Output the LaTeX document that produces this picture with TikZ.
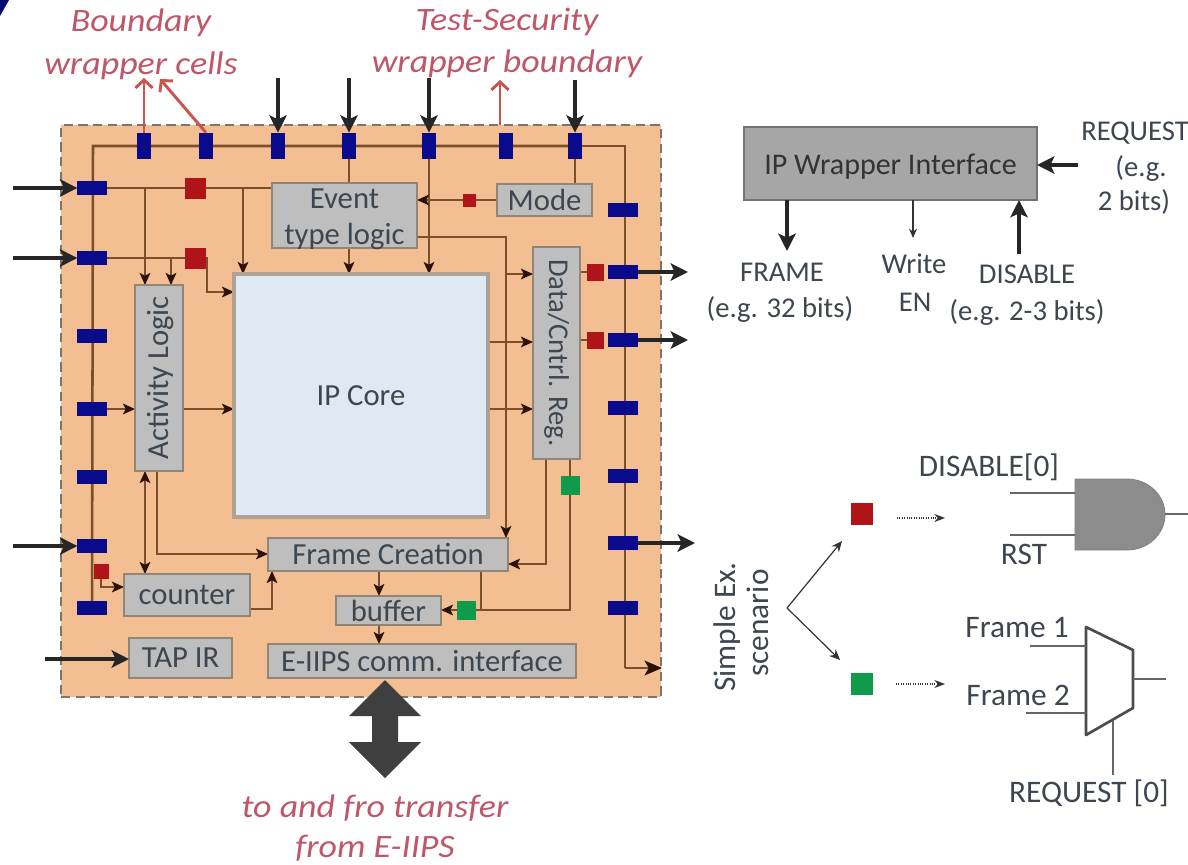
\documentclass[tikz,border=0pt]{standalone}
\usepackage{fontspec}
\usepackage{graphicx}
\setmainfont{Carlito}
\newfontfamily\wideit[FakeStretch=1.1]{Carlito}
\usetikzlibrary{arrows.meta,calc}
\pgfdeclarelayer{wrap}\pgfdeclarelayer{wire}
\pgfsetlayers{wrap,wire,main}
\definecolor{wrapc}{HTML}{F3BE91}
\definecolor{wrapb}{HTML}{7A7570}
\definecolor{wirec}{HTML}{7C4F2A}
\definecolor{headc}{HTML}{2A1208}
\definecolor{cellb}{HTML}{0A0A8C}
\definecolor{cellr}{HTML}{AE1418}
\definecolor{cellg}{HTML}{109A4C}
\definecolor{boxf}{HTML}{BEBEBE}
\definecolor{boxb}{HTML}{8F8678}
\definecolor{corec}{HTML}{DEE9F3}
\definecolor{coreb}{HTML}{AFA294}
\definecolor{redt}{HTML}{C0566A}
\definecolor{redl}{HTML}{C8554F}
\definecolor{txtc}{HTML}{3E4650}
\definecolor{bigc}{HTML}{3F3F3F}
\definecolor{ifacef}{HTML}{A6A6A6}
\newcommand\bx[7]{%
 \pgfmathsetmacro\bxc{(#2+#4)/2}\pgfmathsetmacro\byc{(#3+#5)/2}%
 \pgfmathsetmacro\bw{(#4-#2)*0.75}\pgfmathsetmacro\bh{(#5-#3)*0.75}%
 \node[#6,minimum width=\bw pt,minimum height=\bh pt] (#1) at (\bxc,\byc) {#7};}
\newcommand\cellv[2]{\node[vcell] (#1) at #2 {};}
\newcommand\cellh[2]{\node[hcell] (#1) at #2 {};}
\tikzset{
 x=0.75pt,y=-0.75pt,
 every node/.style={inner sep=0pt,outer sep=0pt},
 graybox/.style={draw=boxb,line width=1.6pt,fill=boxf,text=txtc,font=\fontsize{23}{27}\selectfont,align=center},
 vcell/.style={fill=cellb,minimum width=10.5pt,minimum height=20pt},
 hcell/.style={fill=cellb,minimum width=22pt,minimum height=10.5pt},
 redc/.style={fill=cellr,minimum size=#1*0.75pt},
 grnc/.style={fill=cellg,minimum size=#1*0.75pt},
 wirel/.style={draw=wirec,line width=1.2pt},
 busl/.style={draw=wirec,line width=1.9pt},
 thinar/.style={wirel,-{Stealth[length=9pt,width=8pt,inset=2pt,color=headc]}},
 thinbo/.style={wirel,{Stealth[length=9pt,width=8pt,inset=2pt,color=headc]}-{Stealth[length=9pt,width=8pt,inset=2pt,color=headc]}},
 blkar/.style={draw=black!85,line width=3pt,-{Stealth[length=13pt,width=13pt,inset=3pt]}},
 redar/.style={draw=redl,line width=2.2pt,-{Straight Barb[length=6pt,width=13pt]}},
 lbl/.style={text=txtc,font=\fontsize{21.5}{25}\selectfont},
 lblb/.style={text=txtc,font=\fontsize{23.5}{27}\selectfont},
 ital/.style={text=redt,font=\wideit\fontsize{24.5}{31}\selectfont\itshape,align=center},
 gate/.style={draw=black!60,line width=1.1pt},
}
\begin{document}
\begin{tikzpicture}
\useasboundingbox (0,0) rectangle (1188,864);
% corner mark
\fill[cellb!85!black] (0,0) -- (9,0) -- (0,16) -- cycle;

% wrapper
\begin{pgfonlayer}{wrap}
\bx{wrapper}{61}{125}{661}{697}{draw=wrapb,dash pattern=on 7pt off 4pt,line width=1.5pt,fill=wrapc}{}
\end{pgfonlayer}

% boxes
\bx{core}{234}{274}{488}{517}{draw=coreb,line width=2.6pt,fill=corec,text=txtc,font=\fontsize{23}{27}\selectfont}{IP Core}
\bx{event}{272}{183}{417}{248}{graybox}{\raisebox{-9pt}[0pt][0pt]{\begin{tabular}{@{}c@{}}Event\\type logic\end{tabular}}}
\bx{mode}{497}{184}{592}{216}{graybox}{Mode}
\bx{datareg}{533}{247}{580}{459}{graybox,font=\fontsize{21.5}{25}\selectfont}{\rotatebox{-90}{Data/Cntrl. Reg.}}
\bx{activity}{135}{285}{183}{471}{graybox}{\hspace{3pt}\rotatebox{90}{Activity Logic}}
\bx{frame}{268}{538}{508}{571}{graybox}{Frame Creation}
\bx{counter}{124}{574}{250}{616}{graybox}{counter}
\bx{buffer}{336}{596}{441}{625}{graybox}{buffer}
\bx{tapir}{129}{638}{232}{678}{graybox}{TAP IR}
\bx{eiips}{268}{644}{576}{678}{graybox}{E-IIPS comm. interface}

% wrapper cells
\cellv{t1}{(144,146)}\cellv{t2}{(206,146)}\cellv{t3}{(278,146)}\cellv{t4}{(349,146)}
\cellv{t5}{(429,146)}\cellv{t6}{(506,146)}\cellv{t7}{(575,146)}
\cellh{l1}{(92,188)}\cellh{l2}{(92,258)}\cellh{l3}{(92,336)}\cellh{l4}{(92,409)}
\cellh{l5}{(92,477)}\cellh{l6}{(92,546)}\cellh{l7}{(92,608)}
\cellh{r1}{(623,210)}\cellh{r2}{(623,272)}\cellh{r3}{(623,340)}\cellh{r4}{(623,408)}
\cellh{r5}{(623,476)}\cellh{r6}{(623,543)}\cellh{r7}{(623,608)}

% small cells
\node[redc=21] (ra) at (195,188) {};
\node[redc=21] (rb) at (195,258) {};
\node[redc=13] (rm) at (469,200) {};
\node[redc=17] (rc) at (595,272) {};
\node[redc=17] (rd) at (595,340) {};
\node[redc=15] (re) at (101,571) {};
\node[grnc=19] (ga) at (570,485) {};
\node[grnc=19] (gb) at (466,610) {};

% free ends
\coordinate (busTL) at (93,146);
\coordinate (busTR) at (625,146);
\coordinate (busEnd) at (625,668);
\coordinate (busOut) at (662,668);
\coordinate (in1) at (13,188);
\coordinate (in2) at (13,258);
\coordinate (in3) at (13,546);
\coordinate (in4) at (45,659);
\coordinate (top3) at (278,78);
\coordinate (top4) at (349,78);
\coordinate (top5) at (429,78);
\coordinate (top7) at (575,80);
\coordinate (out2) at (688,272);
\coordinate (out3) at (688,340);
\coordinate (out6) at (695,543);

\begin{pgfonlayer}{wire}
 % scan bus
 \draw[busl] (t7.center) -- (busTL) -- (l7.center);
 \draw[busl] (t7.center) -- (busTR) -- (busEnd);
 \draw[busl,-{Stealth[length=13pt,width=11pt,inset=3pt,color=headc]}] (busEnd) -- (busOut);
 % row 1 and 2
 \draw[draw=wirec,line width=2.2pt] (l1.center) -- (l1 -| event.west);
 \draw[wirel] (l2.center) -- (rb.center);
 \draw[thinar] (145,188) -- (145,285);
 \draw[thinar] (243,188) -- (243,274);
 \draw[thinar] (171,258) -- (171,285);
 \draw[thinar] (rb.east) -- (207,258) -- (207,292) -- (core.west |- 0,292);
 % event logic
 \draw[wirel] (t4.center) -- (event.north -| t4.center);
 \draw[thinar] (event.south -| t4.center) -- (core.north -| t4.center);
 \draw[thinar] (t5.center) -- (core.north -| t5.center);
 \draw[wirel] (t7.center) -- (mode.north -| t7.center);
 \draw[thinar] (mode.west) -- (event.east |- mode.west);
 \draw[thinar] (event.east |- 0,237) -- (506,237) -- (506,538);
 % data register
 \draw[thinar] (506,274) -- (datareg.west |- 0,274);
 \draw[thinar] (core.east |- 0,342) -- (datareg.west |- 0,342);
 \draw[thinar] (core.east |- 0,409) -- (datareg.west |- 0,409);
 \draw[wirel] (datareg.east |- rc) -- (rc.center);
 \draw[wirel] (datareg.east |- rd) -- (rd.center);
 % activity
 \draw[thinar] (l4.center) -- (activity.west |- l4);
 \draw[thinar] (activity.east |- l4) -- (core.west |- l4);
 \draw[thinbo] (145,471) -- (145,574);
 \draw[thinar] (157,471) -- (157,554) -- (frame.west |- 0,554);
 % counter
 \draw[thinar] (counter.east |- 0,609) -- (272,609) -- (272,571);
 \draw[thinar] (re.south) -- (101,587) -- (counter.west |- 0,587);
 % frame
 \draw[thinar] (546,459) -- (546,564) -- (frame.east |- 0,564);
 \draw[wirel] (ga.center) -- (ga |- datareg.south);
 \draw[wirel] (ga.center) -- (ga |- gb) -- (gb.center);
 \draw[wirel] (481,571) -- (481,610);
 \draw[thinar] (gb.center) -- (buffer.east |- gb);
 \draw[thinar] (379,571) -- (379,596);
 \draw[thinar] (379,625) -- (379,644);
\end{pgfonlayer}

% black IO arrows
\draw[blkar] (in1) -- (l1.west);
\draw[blkar] (in2) -- (l2.west);
\draw[blkar] (in3) -- (l6.west);
\draw[blkar] (in4) -- (tapir.west |- in4);
\draw[blkar] (top3) -- (t3.north);
\draw[blkar] (top4) -- (t4.north);
\draw[blkar] (top5) -- (t5.north);
\draw[blkar] (top7) -- (t7.north);
\draw[blkar] (r2.east) -- (out2);
\draw[blkar] (r3.east) -- (out3);
\draw[blkar] (r6.east) -- (out6);

% italic labels and red arrows
\node[ital] (lbw) at (141,44) {Boundary\\[1pt]wrapper cells};
\node[ital] (ltw) at (507,43) {Test-Security\\[1pt]wrapper boundary};
\coordinate (lbwa) at (144,78);
\coordinate (lbwb) at (160,79);
\coordinate (ltwa) at (500,80);
\draw[redar] (t1.north) -- (lbwa);
\draw[redar] (t2.north) -- (lbwb);
\draw[redar] (ltwa |- wrapper.north) -- (ltwa);

% big double arrow
\node[ital] (lfro) at (375,808) {to and fro transfer};
\node[ital] (lfrom) at (375,848) {from E-IIPS};
\coordinate (bigT) at (385,680);
\coordinate (bigB) at (385,778);
\fill[bigc] (bigT) -- (421,716) -- (398,716) -- (398,742) -- (421,742) -- (bigB) -- (349,742) -- (372,742) -- (372,716) -- (349,716) -- cycle;

% IP wrapper interface
\bx{iface}{744}{127}{1037}{200}{draw=black!55,line width=.8pt,fill=ifacef,text=black!80,font=\fontsize{22.5}{26}\selectfont}{\raisebox{-8pt}[0pt][0pt]{IP Wrapper Interface}}
\node[lbl] (req1) at (1135,133) {REQUEST};
\node[lbl] (req2) at (1141,168) {(e.g.};
\node[lbl] (req3) at (1134,202) {2 bits)};
\node[lbl] (fr1) at (782,272) {FRAME};
\node[lbl] (fr2) at (780,309) {(e.g. 32 bits)};
\node[lbl] (we1) at (914,264) {Write};
\node[lbl] (we2) at (915,302) {EN};
\node[lbl] (dis1) at (1027,274) {DISABLE};
\node[lbl] (dis2) at (1027,312) {(e.g. 2-3 bits)};
\coordinate (fa) at (787,251);
\coordinate (wa) at (913,238);
\coordinate (da) at (1019,254);
\coordinate (rqa) at (1078,165);
\draw[blkar] (iface.south -| fa) -- (fa);
\draw[draw=black!80,line width=1pt,-{Stealth[length=7pt,width=6pt]}] (iface.south -| wa) -- (wa);
\draw[blkar] (da) -- (iface.south -| da);
\draw[blkar] (rqa) -- (iface.east |- rqa);

% example scenario
\node[lblb,rotate=90] (sim1) at (727,627) {Simple Ex.};
\node[lblb,rotate=90] (sim2) at (758,623) {scenario};
\coordinate (vtx) at (787,608);
\coordinate (vu) at (842,541);
\coordinate (vd) at (840,660);
\draw[black!80,line width=.9pt,-{Stealth[length=8pt,width=7pt]}] (vtx) -- (vu);
\draw[black!80,line width=.9pt,-{Stealth[length=8pt,width=7pt]}] (vtx) -- (vd);
\node[redc=22] (exr) at (862,514) {};
\node[grnc=22] (exg) at (862,684) {};
\coordinate (dra) at (945,518);
\coordinate (dga) at (945,684);
\draw[black!80,line width=.8pt,densely dotted,-{Stealth[length=8pt,width=6pt]}] (897,518) -- (dra);
\draw[black!80,line width=.8pt,densely dotted,-{Stealth[length=8pt,width=6pt]}] (896,684) -- (dga);

% AND gate
\fill[black!45,draw=black!50,line width=.6pt] (1075,479) -- (1127,479) arc[start angle=-90,end angle=90,x radius=38,y radius=35.5] -- (1075,550) -- cycle;
\coordinate (andr) at (1165,514);
\coordinate (andi) at (1075,493);
\coordinate (andj) at (1075,535);
\draw[gate] (1010,493) -- (andi);
\draw[gate] (1010,535) -- (andj);
\draw[gate] (andr) -- (1188,514);
\node[lblb] (ldis) at (989,467) {DISABLE[0]};
\node[lblb] (lrst) at (1024,554) {RST};

% mux
\draw[black!70,line width=2pt,line join=round,fill=white] (1086,627) -- (1133,650) -- (1133,708) -- (1086,735) -- cycle;
\coordinate (mi) at (1086,646);
\coordinate (mj) at (1086,713);
\coordinate (mo) at (1133,679);
\coordinate (mr) at (1113,721);
\draw[gate] (1030,646) -- (mi);
\draw[gate] (1026,713) -- (mj);
\draw[gate] (mo) -- (1166,679);
\draw[gate] (mr) -- (1113,775);
\node[lblb] (lf1) at (1017,628) {Frame 1};
\node[lblb] (lf2) at (1018,695) {Frame 2};
\node[lblb] (lreq) at (1089,793) {REQUEST [0]};
\end{tikzpicture}
\end{document}
